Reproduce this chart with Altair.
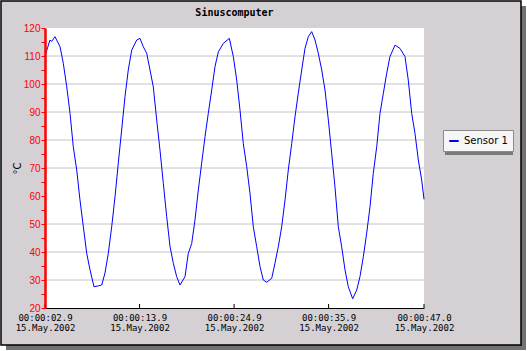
import altair as alt
import pandas as pd

# ---- data ----
times = [2.90, 3.48, 3.68, 4.06, 4.65, 5.03, 5.43, 5.81, 6.19, 6.59, 6.97, 7.36, 7.75, 8.14, 8.60,
         9.10, 9.50, 9.88, 10.27, 10.66, 11.05, 11.43, 11.82, 12.21, 12.59, 12.99, 13.57, 13.95,
         14.34, 14.73, 15.12, 15.50, 15.90, 16.28, 16.67, 17.06, 17.45, 17.83, 18.22, 18.61,
         19.19, 19.57, 19.97, 20.35, 20.74, 21.13, 21.52, 21.90, 22.30, 22.68, 23.07, 23.65,
         24.35, 24.81, 25.21, 25.59, 25.97, 26.37, 26.75, 27.14, 27.53, 27.92, 28.30, 28.70,
         29.28, 29.66, 30.05, 30.44, 30.83, 31.21, 31.61, 31.99, 32.37, 32.77, 33.15, 33.54,
         33.93, 34.32, 34.70, 35.10, 35.48, 35.87, 36.26, 36.64, 37.03, 37.42, 37.81, 38.19,
         38.70, 39.17, 39.55, 39.94, 40.33, 40.72, 41.10, 41.50, 41.88, 42.27, 42.66, 43.04,
         43.63, 44.21, 44.79, 45.17, 45.57, 45.95, 46.34, 46.73, 47.00]
values = [110.0, 115.7, 115.2, 116.9, 113.3, 107.4, 99.0, 89.6, 77.6, 69.3, 58.6, 49.0, 39.6, 33.6, 27.6,
          27.9, 28.2, 32.5, 39.6, 49.0, 59.8, 71.8, 83.6, 95.5, 105.0, 112.1, 115.7, 116.3,
          113.3, 111.0, 105.0, 99.0, 87.1, 76.4, 64.5, 52.6, 41.9, 36.0, 31.2, 28.2,
          31.2, 39.5, 43.0, 51.4, 62.1, 71.7, 81.2, 89.5, 97.9, 106.2, 111.5, 114.5,
          116.3, 109.8, 101.4, 90.7, 78.8, 70.5, 61.0, 49.0, 41.9, 34.8, 30.0, 29.2,
          30.6, 36.0, 41.9, 49.0, 58.6, 69.3, 78.8, 88.3, 96.7, 105.0, 112.7, 116.9,
          118.7, 115.7, 111.0, 105.0, 97.9, 87.1, 75.2, 63.3, 49.0, 41.9, 33.6, 27.6,
          23.3, 26.4, 31.2, 38.3, 46.7, 56.2, 68.1, 77.6, 89.5, 96.7, 103.8, 109.8,
          113.9, 112.7, 109.8, 101.4, 89.5, 82.4, 72.9, 65.7, 58.8]
series_name = "Sensor 1"
x_ticks = [2.9, 13.9, 24.9, 35.9, 47.0]
y_ticks = [20, 25, 30, 35, 40, 45, 50, 55, 60, 65, 70, 75, 80, 85, 90, 95, 100, 105, 110, 115, 120]
grid_values = [30, 40, 50, 70, 80, 90, 100, 110]
date_label = "15.May.2002"
chart_title = "Sinuscomputer"
y_title = "°C"

W, H = 379, 280

df = pd.DataFrame({"t": times, "val": values, "series": [series_name] * len(times)})
grid_df = pd.DataFrame({"val": grid_values})
xt_df = pd.DataFrame({"t": x_ticks})
one = alt.Data(values=[{}])

xscale = alt.Scale(domain=[2.9, 47.0], nice=False, zero=False)
yscale = alt.Scale(domain=[20, 120], nice=False, zero=False)

xaxis = alt.Axis(
    values=x_ticks, title=None, grid=False, ticks=False, tickSize=0,
    domainColor="#000000", domainWidth=1,
    labelExpr="['00:00:' + format(datum.value, '04.1f'), '" + date_label + "']",
    labelFont="DejaVu Sans Mono", labelFontSize=9, labelColor="#000000",
    labelPadding=5, labelLineHeight=10, labelOverlap=False, labelFlush=False,
    labelBound=False, zindex=1)
yaxis = alt.Axis(
    values=y_ticks, grid=False, title=y_title,
    labelExpr="datum.value % 10 == 0 ? datum.label : ''",
    labelColor="#ff0000", labelFont="Liberation Sans", labelFontSize=10,
    labelPadding=1, labelOverlap=False, labelBound=False,
    tickColor="#ff0000", tickSize=4, tickWidth=1,
    domainColor="#ff0000", domainWidth=2.5,
    titleColor="#000000", titleFont="DejaVu Sans", titleFontSize=10,
    titleFontWeight="normal", titleAngle=-90, titleX=-28, titleY=140,
    titleAlign="center", titleBaseline="middle", zindex=1)

shadow = alt.Chart(one).mark_rect(color="#727272").encode(
    x=alt.value(-39), x2=alt.value(481), y=alt.value(-22), y2=alt.value(322))
frame = alt.Chart(one).mark_rect(fill="#d4d0d4", stroke="#000000", strokeWidth=1.5).encode(
    x=alt.value(-44), x2=alt.value(476), y=alt.value(-27), y2=alt.value(317))
plotbg = alt.Chart(one).mark_rect(fill="#ffffff").encode(
    x=alt.value(0), x2=alt.value(W), y=alt.value(0), y2=alt.value(H))

grid = alt.Chart(grid_df).mark_rule(color="#c4c4c4", strokeWidth=1).encode(
    y=alt.Y("val:Q", scale=yscale, axis=yaxis))

line = alt.Chart(df).mark_line(strokeWidth=1).encode(
    x=alt.X("t:Q", scale=xscale, axis=xaxis),
    y=alt.Y("val:Q", scale=yscale, axis=yaxis),
    color=alt.Color("series:N", scale=alt.Scale(domain=[series_name], range=["#0000ff"]),
                    legend=alt.Legend(title=None, orient="none", legendX=398, legendY=102,
                                      padding=5, fillColor="#f6f6f6", strokeColor="#8a8a8a",
                                      symbolType="stroke", symbolSize=90, symbolStrokeWidth=2,
                                      labelFont="DejaVu Sans", labelFontSize=10,
                                      labelColor="#000000", labelOffset=4, zindex=1)),
)

xticks = alt.Chart(xt_df).mark_rule(color="#000000", strokeWidth=1).encode(
    x=alt.X("t:Q", scale=xscale, axis=xaxis), y=alt.value(H - 4), y2=alt.value(H))

legend_shadow = alt.Chart(one).mark_rect(color="#7a7a7a").encode(
    x=alt.value(400), x2=alt.value(468), y=alt.value(104), y2=alt.value(127))

title = alt.Chart(one).mark_text(text=chart_title, font="DejaVu Sans Mono", fontSize=10,
                                 fontWeight="bold", color="#000000", align="center",
                                 baseline="middle").encode(
    x=alt.value(189.5), y=alt.value(-15))

chart = alt.layer(shadow, frame, plotbg, grid, line, xticks, legend_shadow, title).properties(
    width=W, height=H,
    autosize=alt.AutoSizeParams(type="none"),
    padding={"left": 45, "top": 28, "right": 103, "bottom": 43},
    background="#ffffff",
).configure_view(strokeWidth=0)

chart.save("out.html", embed_options={"renderer": "svg", "actions": False})
